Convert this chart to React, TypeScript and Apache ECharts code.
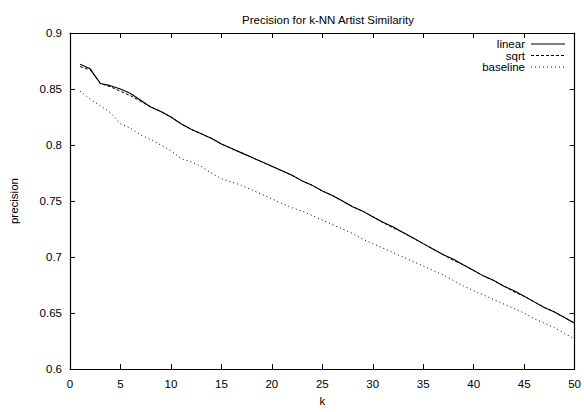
import React, { useEffect, useRef } from "react";
import * as echarts from "echarts";

const kValues = Array.from({ length: 50 }, (_, i) => i + 1);

const linear = [
  0.872, 0.868, 0.855, 0.853, 0.850, 0.846, 0.840, 0.834, 0.830, 0.825,
  0.819, 0.814, 0.810, 0.806, 0.801, 0.797, 0.793, 0.789, 0.785, 0.781,
  0.777, 0.773, 0.768, 0.764, 0.759, 0.755, 0.750, 0.745, 0.741, 0.736,
  0.731, 0.727, 0.722, 0.717, 0.712, 0.707, 0.702, 0.698, 0.693, 0.688,
  0.683, 0.679, 0.674, 0.670, 0.665, 0.660, 0.655, 0.651, 0.646, 0.641,
];

const sqrt = [
  0.870, 0.867, 0.855, 0.852, 0.848, 0.844, 0.839, 0.834, 0.830, 0.825,
  0.819, 0.814, 0.810, 0.806, 0.801, 0.797, 0.793, 0.789, 0.785, 0.781,
  0.777, 0.773, 0.768, 0.764, 0.759, 0.755, 0.750, 0.745, 0.741, 0.736,
  0.731, 0.726, 0.722, 0.717, 0.712, 0.707, 0.702, 0.697, 0.693, 0.688,
  0.683, 0.679, 0.674, 0.669, 0.665, 0.660, 0.655, 0.651, 0.646, 0.641,
];

const baseline = [
  0.848, 0.841, 0.835, 0.829, 0.819, 0.815, 0.809, 0.805, 0.800, 0.795,
  0.788, 0.785, 0.781, 0.775, 0.770, 0.767, 0.764, 0.760, 0.756, 0.752,
  0.748, 0.744, 0.741, 0.737, 0.733, 0.729, 0.725, 0.721, 0.716, 0.712,
  0.708, 0.704, 0.700, 0.696, 0.692, 0.688, 0.684, 0.679, 0.674, 0.670,
  0.666, 0.662, 0.658, 0.654, 0.650, 0.645, 0.641, 0.637, 0.632, 0.627,
];

const seriesNames = ["linear", "sqrt", "baseline"];
const dashStyles: any[] = ["solid", [3, 2], [1, 3]];

const FONT = "Liberation Sans, Arial, Helvetica, sans-serif";

export default function App() {
  const ref = useRef<HTMLDivElement>(null);
  useEffect(() => {
    if (!ref.current) return;
    const chart = echarts.init(ref.current, null, { renderer: "svg" });
    const axisCommon = {
      min: 0,
      max: 50,
      interval: 5,
      axisLine: { show: true, onZero: false, lineStyle: { color: "#000", width: 1.2 } },
      axisTick: { show: true, inside: true, length: 5, lineStyle: { color: "#000", width: 1 } },
      splitLine: { show: false },
    };
    const yCommon = {
      min: 0.6,
      max: 0.9,
      interval: 0.05,
      axisLine: { show: true, onZero: false, lineStyle: { color: "#000", width: 1.2 } },
      axisTick: { show: true, inside: true, length: 5, lineStyle: { color: "#000", width: 1 } },
      splitLine: { show: false },
    };
    const mk = (name: string, data: number[], type: any, width: number) => ({
      name,
      type: "line",
      data: kValues.map((k, i) => [k, data[i]]),
      showSymbol: false,
      symbol: "none",
      lineStyle: { color: "#000", width, type },
      itemStyle: { color: "#000" },
      xAxisIndex: 0,
      yAxisIndex: 0,
    });
    const legendRows = [44, 55.5, 67];
    const legendGraphics: any[] = [];
    seriesNames.forEach((n, i) => {
      legendGraphics.push({
        type: "text",
        x: 525,
        y: legendRows[i],
        style: {
          text: n,
          fill: "#000",
          fontSize: 11.5,
          fontFamily: FONT,
          textAlign: "right",
          textVerticalAlign: "middle",
        },
      });
      legendGraphics.push({
        type: "line",
        shape: { x1: 531, y1: legendRows[i], x2: 565, y2: legendRows[i] },
        style: { stroke: "#000", lineWidth: 1, lineDash: dashStyles[i] === "solid" ? null : dashStyles[i] },
      });
    });
    chart.setOption({
      animation: false,
      backgroundColor: "#fff",
      textStyle: { fontFamily: FONT },
      title: {
        text: "Precision for k-NN Artist Similarity",
        left: 323,
        textAlign: "center",
        top: 9,
        textStyle: { fontSize: 11.5, fontWeight: "normal", color: "#000", fontFamily: FONT },
      },
      graphic: legendGraphics,
      grid: { left: 70, right: 6, top: 33, bottom: 32, containLabel: false },
      xAxis: [
        {
          ...axisCommon,
          type: "value",
          position: "bottom",
          name: "k",
          nameLocation: "middle",
          nameGap: 24,
          nameTextStyle: { fontSize: 11.5, color: "#000", fontFamily: FONT },
          axisLabel: { show: true, color: "#000", fontSize: 11.5, margin: 9, fontFamily: FONT },
        },
        {
          ...axisCommon,
          type: "value",
          position: "top",
          axisLabel: { show: false },
        },
      ],
      yAxis: [
        {
          ...yCommon,
          type: "value",
          position: "left",
          name: "precision",
          nameLocation: "middle",
          nameGap: 50,
          nameRotate: 90,
          nameTextStyle: { fontSize: 11.5, color: "#000", fontFamily: FONT },
          axisLabel: {
            show: true,
            color: "#000",
            fontSize: 11.5,
            margin: 8,
            fontFamily: FONT,
            formatter: (v: number) => String(parseFloat(v.toFixed(2))),
          },
        },
        {
          ...yCommon,
          type: "value",
          position: "right",
          axisLabel: { show: false },
        },
      ],
      series: [
        mk(seriesNames[0], linear, dashStyles[0], 1.1),
        mk(seriesNames[1], sqrt, dashStyles[1], 1),
        mk(seriesNames[2], baseline, dashStyles[2], 1),
      ],
    });
    return () => chart.dispose();
  }, []);
  return (
    <div
      ref={ref}
      style={{ position: "absolute", left: 0, top: 0, width: 584, height: 412 }}
    />
  );
}
